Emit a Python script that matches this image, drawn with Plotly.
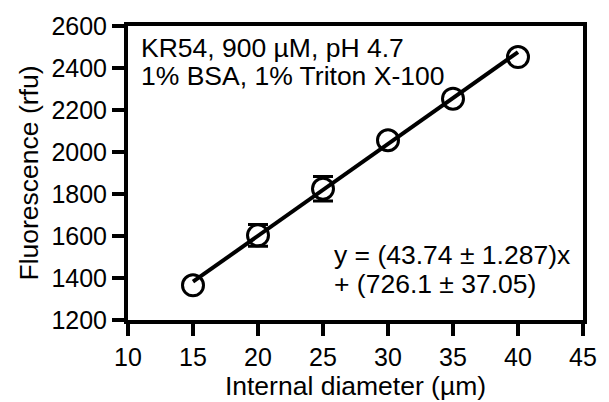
import plotly.graph_objects as go

# Data
diameter_um = [15, 20, 25, 30, 35, 40]
fluorescence_rfu = [1365, 1603, 1825, 2056, 2254, 2452]
error_rfu = [0, 52, 58, 0, 0, 0]
fit_slope = 43.74
fit_intercept = 726.1
fit_x = [15, 40]
fit_y = [fit_slope * v + fit_intercept for v in fit_x]

x_ticks = [10, 15, 20, 25, 30, 35, 40, 45]
y_ticks = [1200, 1400, 1600, 1800, 2000, 2200, 2400, 2600]

FONT = "Arial, Liberation Sans, sans-serif"
TICK_FS = 25
TXT_FS = 26.5

fig = go.Figure()
fig.add_trace(go.Scatter(
    x=diameter_um, y=fluorescence_rfu, mode="markers",
    marker=dict(symbol="circle", size=21, color="white",
                line=dict(color="black", width=3)),
    error_y=dict(type="data", array=error_rfu, visible=True,
                 color="black", thickness=3, width=10),
    showlegend=False, cliponaxis=False,
))
fig.add_trace(go.Scatter(
    x=fit_x, y=fit_y, mode="lines",
    line=dict(color="black", width=4),
    showlegend=False, cliponaxis=False,
))

axis_common = dict(
    showline=True, linecolor="black", linewidth=4, mirror=True,
    ticks="outside", ticklen=12, tickwidth=4, tickcolor="black",
    showgrid=False, zeroline=False,
    tickfont=dict(family=FONT, size=TICK_FS, color="black"),
)
fig.update_xaxes(range=[10, 45], tickvals=x_ticks,
                 ticktext=[str(v) for v in x_ticks],
                 title=dict(text="Internal diameter (µm)",
                            font=dict(family=FONT, size=TXT_FS, color="black"),
                            standoff=0),
                 **axis_common)
fig.update_yaxes(range=[1200, 2600], tickvals=y_ticks,
                 ticktext=[str(v) for v in y_ticks],
                 title=dict(text="Fluorescence (rfu)",
                            font=dict(family=FONT, size=TXT_FS, color="black"),
                            standoff=6),
                 **axis_common)

ann_font = dict(family=FONT, size=TXT_FS, color="black")
annotations = [
    dict(text="KR54, 900 µM, pH 4.7", x=0.024, y=0.925),
    dict(text="1% BSA, 1% Triton X-100", x=0.024, y=0.83),
    dict(text="y = (43.74 ± 1.287)x", x=0.449, y=0.22),
    dict(text="+ (726.1 ± 37.05)", x=0.449, y=0.122),
]
for a in annotations:
    fig.add_annotation(xref="paper", yref="paper", xanchor="left",
                       yanchor="middle", showarrow=False, font=ann_font, **a)

fig.update_layout(
    width=609, height=402,
    margin=dict(l=128, r=22, t=20, b=77),
    paper_bgcolor="white", plot_bgcolor="white",
    font=dict(family=FONT, size=TXT_FS, color="black"),
)

fig.write_html("out.html")
